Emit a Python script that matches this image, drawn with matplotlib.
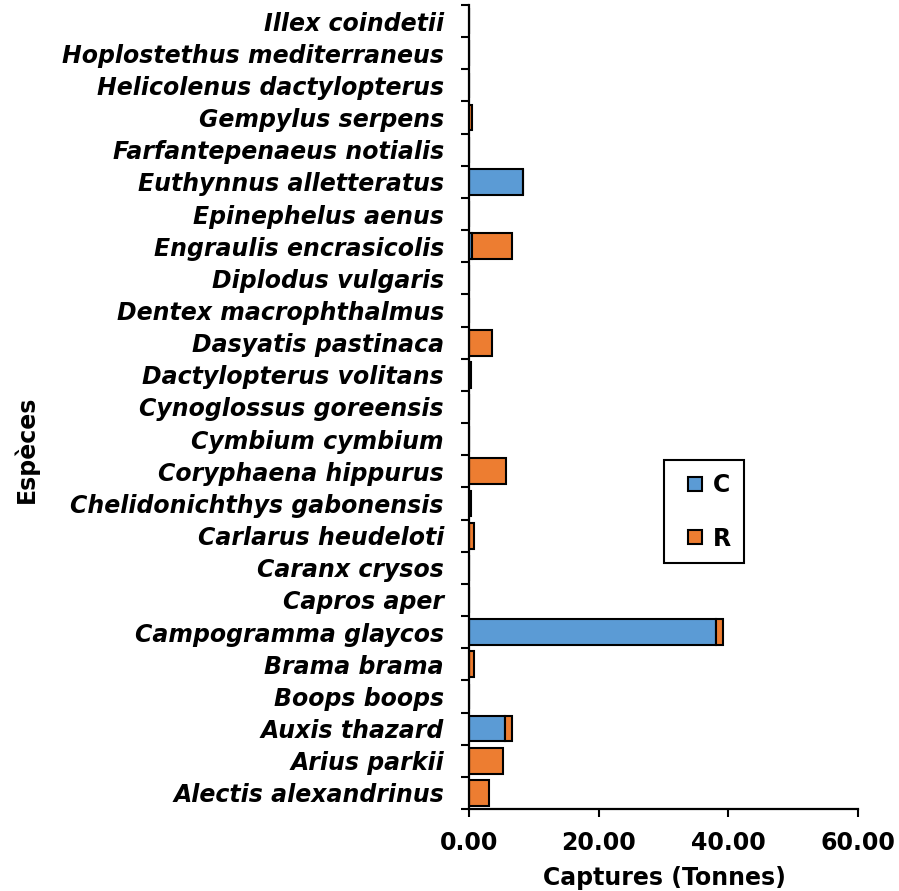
import matplotlib
matplotlib.use("Agg")
import matplotlib.pyplot as plt
from matplotlib.lines import Line2D
import numpy as np

species = [
    "Alectis alexandrinus", "Arius parkii", "Auxis thazard", "Boops boops",
    "Brama brama", "Campogramma glaycos", "Capros aper", "Caranx crysos",
    "Carlarus heudeloti", "Chelidonichthys gabonensis", "Coryphaena hippurus",
    "Cymbium cymbium", "Cynoglossus goreensis", "Dactylopterus volitans",
    "Dasyatis pastinaca", "Dentex macrophthalmus", "Diplodus vulgaris",
    "Engraulis encrasicolis", "Epinephelus aenus", "Euthynnus alletteratus",
    "Farfantepenaeus notialis", "Gempylus serpens", "Helicolenus dactylopterus",
    "Hoplostethus mediterraneus", "Illex coindetii",
]
C_values = [0, 0, 5.6, 0, 0, 38.1, 0, 0, 0, 0, 0, 0, 0, 0, 0, 0, 0, 0.4, 0, 8.4,
            0, 0, 0, 0, 0]
R_values = [3.1, 5.3, 1.0, 0, 0.8, 1.1, 0, 0, 0.8, 0.3, 5.7, 0, 0, 0.3, 3.5, 0, 0,
            6.2, 0, 0, 0, 0.4, 0, 0, 0]
series_names = ["C", "R"]
xticks = [0, 20, 40, 60]
xtick_labels = ["0.00", "20.00", "40.00", "60.00"]

W, H = 899, 891
fig = plt.figure(figsize=(W / 100, H / 100), dpi=100)
ax = fig.add_axes([469 / W, 1 - 809 / H, (858 - 469) / W, (809 - 5) / H])

y = np.arange(len(species))
C = np.array(C_values)
R = np.array(R_values)
blue = "#5B9BD5"
orange = "#ED7D31"
ax.barh(y, C, height=0.8, color=blue, edgecolor="black", linewidth=1.5,
        label=series_names[0])
ax.barh(y, R, left=C, height=0.8, color=orange, edgecolor="black", linewidth=1.5,
        label=series_names[1])

ax.set_xlim(0, 60)
ax.set_ylim(-0.5, len(species) - 0.5)

ax.spines["top"].set_visible(False)
ax.spines["right"].set_visible(False)
for s in ("left", "bottom"):
    ax.spines[s].set_linewidth(1.6)

ax.set_yticks(y)
ax.set_yticklabels(species, fontsize=17, fontweight="bold", fontstyle="italic",
                   family="DejaVu Sans")
ax.set_yticks(np.arange(-0.5, len(species)), minor=True)
ax.tick_params(axis="y", which="major", length=0, pad=18)
ax.tick_params(axis="y", which="minor", length=6, width=1.5, direction="out")

ax.set_xticks(xticks)
ax.set_xticklabels(xtick_labels, fontsize=17, fontweight="bold")
ax.tick_params(axis="x", which="major", length=6, width=1.5, direction="out", pad=10)

fig.text(664 / W, 1 - 878 / H, "Captures (Tonnes)", ha="center", va="center",
         fontsize=17, fontweight="bold")
fig.text(26 / W, 1 - 449 / H, "Espèces", ha="center", va="center", rotation=90,
         fontsize=17, fontweight="bold")

handles = [Line2D([], [], linestyle="none", marker="s", markersize=10.5,
                  markerfacecolor=col, markeredgecolor="black", markeredgewidth=1.5)
           for col in (blue, orange)]
leg = ax.legend(handles=handles, labels=series_names, loc="upper left",
                bbox_to_anchor=(664 / W, 1 - 460 / H), bbox_transform=fig.transFigure,
                borderaxespad=0, prop={"weight": "bold", "size": 17},
                handlelength=1.5, handletextpad=0.0,
                labelspacing=1.25, borderpad=0.55, fancybox=False, frameon=True,
                framealpha=1)
leg.get_frame().set_edgecolor("black")
leg.get_frame().set_linewidth(1.5)

fig.savefig("out.png", dpi=100)
